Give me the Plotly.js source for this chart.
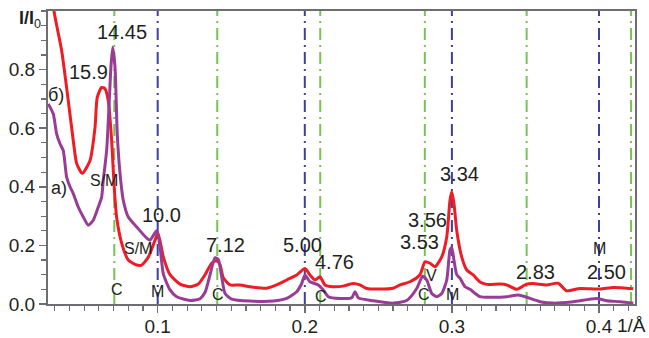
<!DOCTYPE html>
<html>
<head>
<meta charset="utf-8">
<script src="https://cdn.plot.ly/plotly-3.0.1.min.js"></script>
<style>html,body{margin:0;padding:0;background:#fff;}#chart{width:649px;height:338px;}</style>
</head>
<body>
<div id="chart"></div>
<script>
// Curve б) (red)
const redX = [0.0281,0.0295,0.0347,0.0392,0.0426,0.0449,0.0487,0.0540,0.0574,0.0589,0.0619,0.0642,0.0664,0.0687,0.0703,0.0721,0.0755,0.0800,0.0857,0.0891,0.0936,0.0982,0.1002,0.1038,0.1084,0.1152,0.1220,0.1276,0.1322,0.1367,0.1401,0.1424,0.1446,0.1492,0.1559,0.1627,0.1741,0.1809,0.1877,0.1945,0.2001,0.2035,0.2069,0.2103,0.2137,0.2192,0.2260,0.2328,0.2375,0.2421,0.2511,0.2600,0.2647,0.2715,0.2783,0.2817,0.2851,0.2885,0.2931,0.2965,0.2987,0.2999,0.3014,0.3033,0.3067,0.3101,0.3145,0.3191,0.3237,0.3327,0.3373,0.3441,0.3508,0.3553,0.3644,0.3723,0.3780,0.3871,0.4007,0.4097,0.4233];
const redY = [1.08,1.0,0.865,0.694,0.558,0.48,0.446,0.49,0.603,0.705,0.739,0.735,0.694,0.558,0.41,0.296,0.208,0.15,0.133,0.133,0.16,0.218,0.242,0.161,0.10,0.068,0.059,0.068,0.10,0.139,0.148,0.133,0.09,0.065,0.065,0.059,0.054,0.065,0.082,0.099,0.121,0.099,0.082,0.093,0.065,0.059,0.061,0.07,0.065,0.053,0.051,0.054,0.065,0.076,0.10,0.144,0.139,0.127,0.161,0.229,0.354,0.382,0.343,0.25,0.16,0.116,0.099,0.075,0.067,0.068,0.065,0.05,0.068,0.07,0.065,0.071,0.045,0.053,0.051,0.056,0.052];
// Curve a) (purple)
const purX = [0.0256,0.0290,0.0313,0.0336,0.0358,0.0381,0.0404,0.0426,0.0460,0.0494,0.0528,0.0562,0.0596,0.0619,0.0630,0.0653,0.0671,0.0682,0.0694,0.0710,0.0725,0.0744,0.0766,0.0800,0.0857,0.0925,0.0948,0.0993,0.1016,0.1038,0.1084,0.1129,0.1220,0.1288,0.1322,0.1356,0.1390,0.1412,0.1435,0.1458,0.1503,0.1627,0.1786,0.1877,0.1945,0.1979,0.2001,0.2035,0.2092,0.2126,0.2160,0.2239,0.2319,0.2341,0.2364,0.2466,0.2602,0.2693,0.2761,0.2801,0.2829,0.2863,0.2897,0.2931,0.2965,0.2987,0.2999,0.3014,0.3033,0.3055,0.3089,0.3123,0.3191,0.3281,0.3373,0.3451,0.3508,0.3599,0.3689,0.3825,0.3984,0.4052,0.4143,0.4233];
const purY = [0.683,0.649,0.581,0.547,0.524,0.433,0.40,0.377,0.331,0.297,0.269,0.286,0.331,0.365,0.422,0.524,0.694,0.808,0.876,0.808,0.581,0.445,0.354,0.297,0.263,0.225,0.218,0.25,0.195,0.104,0.048,0.025,0.012,0.018,0.04,0.10,0.158,0.152,0.093,0.036,0.017,0.01,0.01,0.019,0.042,0.07,0.099,0.076,0.065,0.048,0.025,0.019,0.021,0.042,0.021,0.011,0.003,0.012,0.053,0.095,0.082,0.036,0.025,0.036,0.082,0.184,0.193,0.15,0.10,0.088,0.059,0.05,0.025,0.023,0.025,0.031,0.023,0.008,0.003,0.008,0.019,0.011,0.008,0.003];
// Reference lines
const cLinesX = [0.0705,0.1405,0.2105,0.2816,0.3508,0.4218];
const mLinesX = [0.1,0.2,0.3,0.4];
// Labels
const labelText = ["14.45","15.9","б)","a)","S/M","S/M","10.0","C","M","7.12","C","5.00","4.76","C","3.53","3.56","3.34","V","C","M","2.83","2.50","M"];
const labelX = [0.0757,0.0530,0.0309,0.0329,0.0635,0.0869,0.1029,0.0720,0.1002,0.1464,0.1407,0.1981,0.2199,0.2110,0.2780,0.2831,0.3055,0.2858,0.2810,0.3004,0.3565,0.4054,0.4000];
const labelY = [0.928,0.792,0.713,0.396,0.420,0.189,0.305,0.051,0.044,0.201,0.034,0.200,0.145,0.027,0.210,0.288,0.442,0.096,0.034,0.034,0.108,0.108,0.188];
const labelSize = [20,20,18,18,16,16,20,16,16,20,16,20,20,16,20,20,20,16,16,16,20,20,16];
const xTickVals = [0.1,0.2,0.3,0.4];
const yTickVals = [0,0.2,0.4,0.6,0.8];

const traces = [
  {x: redX, y: redY, mode: 'lines', line: {color: '#ee1c24', width: 3, shape: 'spline', smoothing: 0.6}, hoverinfo: 'skip'},
  {x: purX, y: purY, mode: 'lines', line: {color: '#983c95', width: 3, shape: 'spline', smoothing: 0.6}, hoverinfo: 'skip'}
];
const shapes = [];
cLinesX.forEach(v => shapes.push({type: 'line', xref: 'x', yref: 'paper', x0: v, x1: v, y0: 0, y1: 1, layer: 'below', line: {color: '#76c453', width: 2, dash: '12px,5px,2px,5px'}}));
mLinesX.forEach(v => shapes.push({type: 'line', xref: 'x', yref: 'paper', x0: v, x1: v, y0: 0, y1: 1, layer: 'below', line: {color: '#3d3fa3', width: 2, dash: '12px,5px,2px,5px'}}));

const annotations = labelText.map((t, i) => ({
  x: labelX[i], y: labelY[i], xref: 'x', yref: 'y', text: t, showarrow: false,
  xanchor: 'center', yanchor: 'middle',
  font: {family: 'Liberation Sans, Arial, sans-serif', size: labelSize[i], color: '#231f20'}
}));
annotations.push({x: 0.4224, y: -0.075, xref: 'x', yref: 'paper', text: '1/Å', showarrow: false, xanchor: 'center', yanchor: 'middle', font: {family: 'Liberation Sans, Arial, sans-serif', size: 19, color: '#231f20'}});
annotations.push({x: 0, y: 0.972, xref: 'paper', yref: 'paper', xshift: -31, text: '<b>I/I</b><sub>0</sub>', showarrow: false, xanchor: 'left', yanchor: 'middle', font: {family: 'Liberation Sans, Arial, sans-serif', size: 18, color: '#231f20'}});

const layout = {
  width: 649, height: 338,
  margin: {l: 48, r: 14, t: 11, b: 34},
  paper_bgcolor: '#ffffff', plot_bgcolor: '#ffffff',
  showlegend: false,
  font: {family: 'Liberation Sans, Arial, sans-serif', size: 19, color: '#231f20'},
  xaxis: {
    range: [0.02543, 0.42447], showgrid: false, zeroline: false,
    showline: true, linecolor: '#6d6e71', linewidth: 2, mirror: true,
    tickmode: 'array', tickvals: xTickVals, ticktext: xTickVals.map(v => v.toFixed(1)),
    ticks: 'outside', ticklen: 7, tickwidth: 1.5, tickcolor: '#6d6e71', ticklabelstandoff: -3,
    minor: {tickmode: 'linear', tick0: 0, dtick: 0.01, ticks: 'outside', ticklen: 5, tickwidth: 1.2, tickcolor: '#6d6e71', showgrid: false},
    tickfont: {size: 19, color: '#231f20'}
  },
  yaxis: {
    range: [0, 1.0], showgrid: false, zeroline: false,
    showline: true, linecolor: '#6d6e71', linewidth: 2, mirror: true,
    tickmode: 'array', tickvals: yTickVals, ticktext: yTickVals.map(v => v.toFixed(1)),
    ticks: 'outside', ticklen: 7, tickwidth: 1.5, tickcolor: '#6d6e71',
    minor: {tickmode: 'linear', tick0: 0, dtick: 0.05, ticks: 'outside', ticklen: 5, tickwidth: 1.2, tickcolor: '#6d6e71', showgrid: false},
    tickfont: {size: 19, color: '#231f20'}
  },
  shapes: shapes,
  annotations: annotations
};
Plotly.newPlot('chart', traces, layout, {displayModeBar: false, staticPlot: true});
</script>
</body>
</html>
